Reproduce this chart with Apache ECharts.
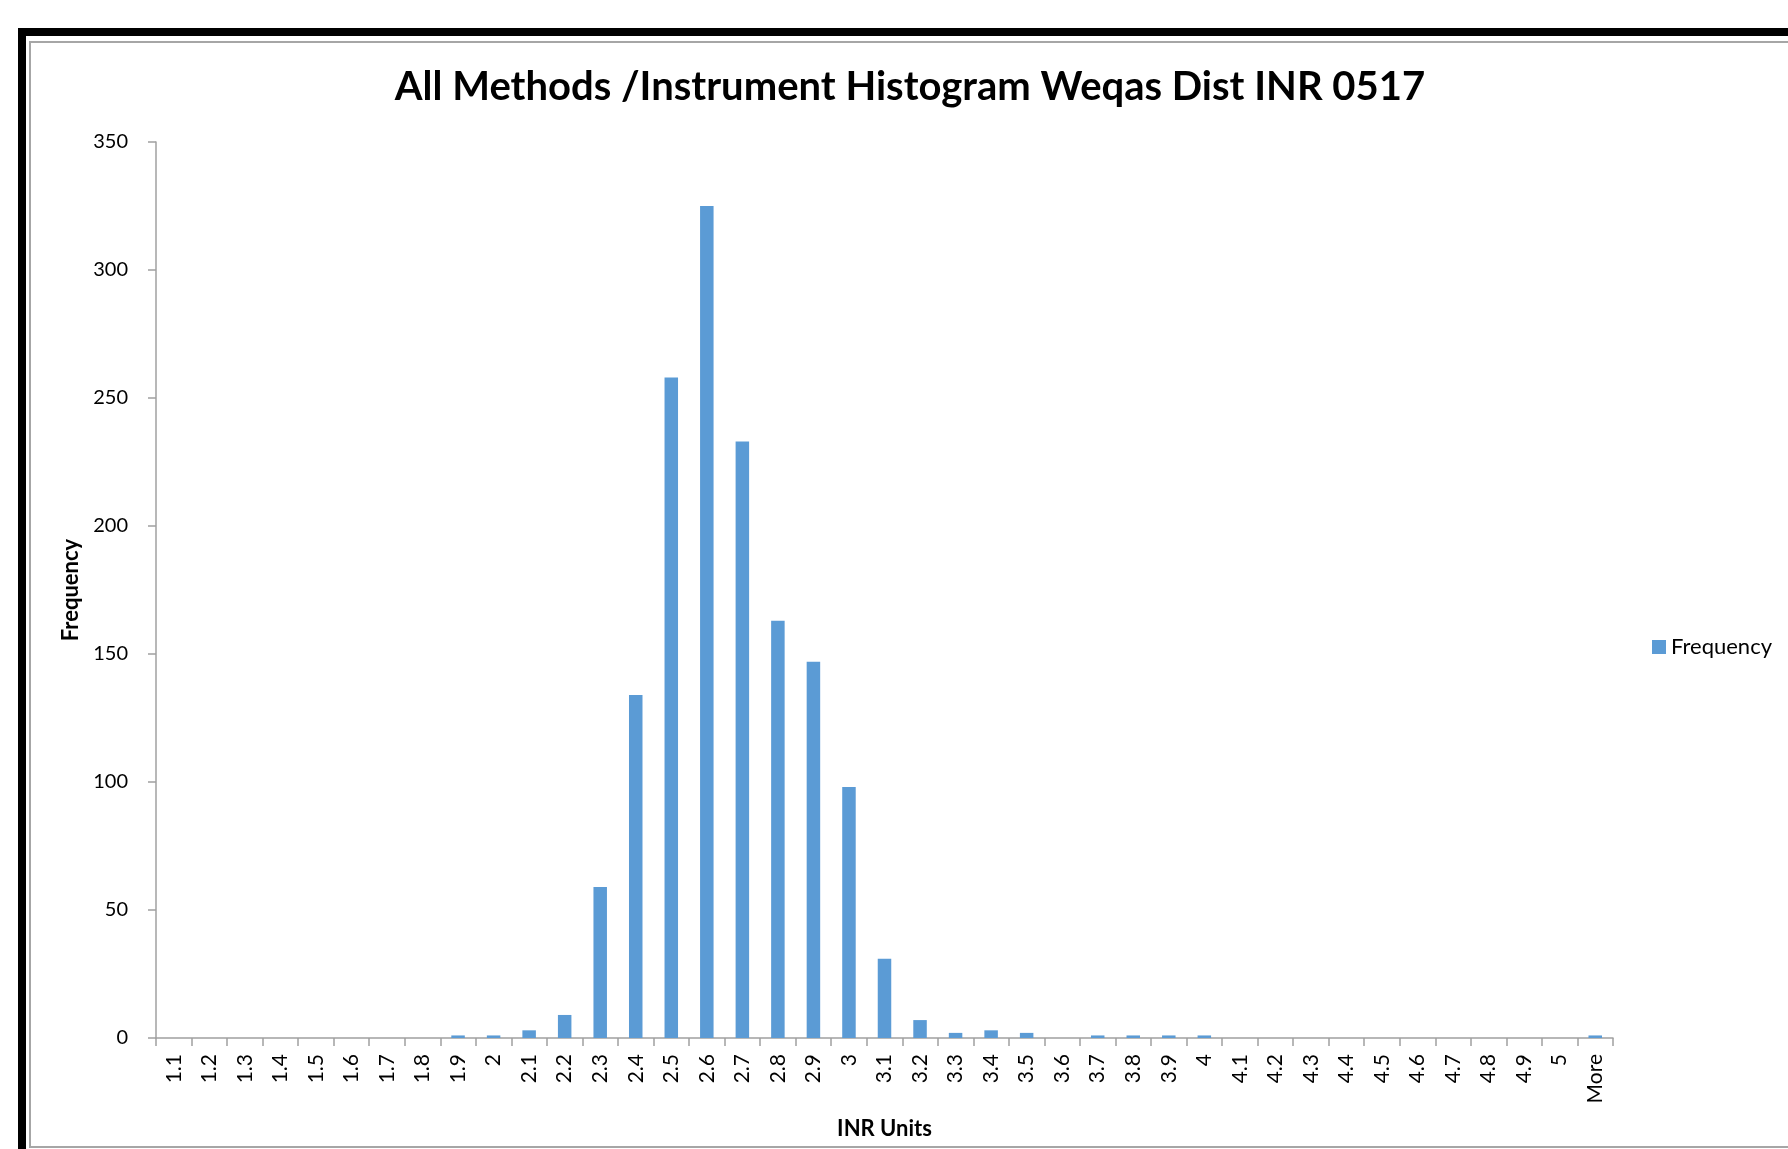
<!DOCTYPE html>
<html>
<head>
<meta charset="utf-8">
<title>INR histogram</title>
<script src="https://cdn.jsdelivr.net/npm/echarts@6/dist/echarts.min.js"></script>
<style>
  html, body { margin: 0; padding: 0; background: #fff; overflow: hidden; }
  .frame-outer {
    position: absolute; left: 18px; top: 28px; width: 2000px; height: 2000px;
    border-left: 8px solid #000; border-top: 8px solid #000;
  }
  .frame-inner {
    position: absolute; left: 29px; top: 41px; width: 2000px; height: 1103px;
    border: 2px solid #a6a6a6; border-right: none;
  }
  #chart { position: absolute; left: 0; top: 0; width: 1788px; height: 1149px; }
</style>
</head>
<body>
<div class="frame-outer"></div>
<div class="frame-inner"></div>
<div id="chart"></div>
<script>
// bins (INR units)
var bins = ["1.1", "1.2", "1.3", "1.4", "1.5", "1.6", "1.7", "1.8", "1.9", "2",
  "2.1", "2.2", "2.3", "2.4", "2.5", "2.6", "2.7", "2.8", "2.9", "3",
  "3.1", "3.2", "3.3", "3.4", "3.5", "3.6", "3.7", "3.8", "3.9", "4",
  "4.1", "4.2", "4.3", "4.4", "4.5", "4.6", "4.7", "4.8", "4.9", "5", "More"];

// counts
var frequency = [0, 0, 0, 0, 0, 0, 0, 0, 1, 1,
  3, 9, 59, 134, 258, 325, 233, 163, 147, 98,
  31, 7, 2, 3, 2, 0, 1, 1, 1, 1,
  0, 0, 0, 0, 0, 0, 0, 0, 0, 0, 1];

var yTicks = [0, 50, 100, 150, 200, 250, 300, 350];

var font = "Lato";
var axisGray = "#a0a0a0";

var chart = echarts.init(document.getElementById("chart"));
var option = {
  animation: false,
  title: {
    text: "All Methods /Instrument Histogram Weqas Dist INR 0517",
    left: 905,
    top: 62,
    textAlign: "center",
    textStyle: { fontFamily: font, fontWeight: "bold", fontSize: 40, color: "#000" }
  },
  legend: {
    data: ["Frequency"],
    left: 1647,
    top: 631,
    itemWidth: 14,
    itemHeight: 14,
    itemGap: 6,
    icon: "rect",
    textStyle: { fontFamily: font, fontSize: 22, color: "#000" }
  },
  grid: {
    left: 156,
    top: 142,
    right: 175,
    bottom: 111,
    outerBoundsMode: "none"
  },
  xAxis: {
    type: "category",
    data: bins,
    name: "INR Units",
    nameLocation: "middle",
    nameGap: 80,
    nameTextStyle: { fontFamily: font, fontWeight: "bold", fontSize: 22, color: "#000" },
    axisLine: { lineStyle: { color: axisGray, width: 1.5 } },
    axisTick: { show: true, interval: 0, length: 8, lineStyle: { color: axisGray, width: 1.5 } },
    axisLabel: {
      interval: 0,
      rotate: 90,
      margin: 16,
      fontFamily: font,
      fontSize: 21,
      color: "#000"
    },
    splitLine: { show: false }
  },
  yAxis: {
    type: "value",
    min: yTicks[0],
    max: yTicks[yTicks.length - 1],
    interval: 50,
    name: "Frequency",
    nameLocation: "middle",
    nameGap: 70,
    nameTextStyle: { fontFamily: font, fontWeight: "bold", fontSize: 22, color: "#000" },
    axisLine: { show: true, lineStyle: { color: axisGray, width: 1.5 } },
    axisTick: { show: true, length: 8, lineStyle: { color: axisGray, width: 1.5 } },
    axisLabel: { margin: 28, fontFamily: font, fontSize: 20, color: "#000" },
    splitLine: { show: false }
  },
  series: [
    {
      name: "Frequency",
      type: "bar",
      data: frequency,
      barWidth: "38%",
      itemStyle: { color: "#5b9bd5" }
    }
  ]
};
chart.setOption(option);
</script>
</body>
</html>
